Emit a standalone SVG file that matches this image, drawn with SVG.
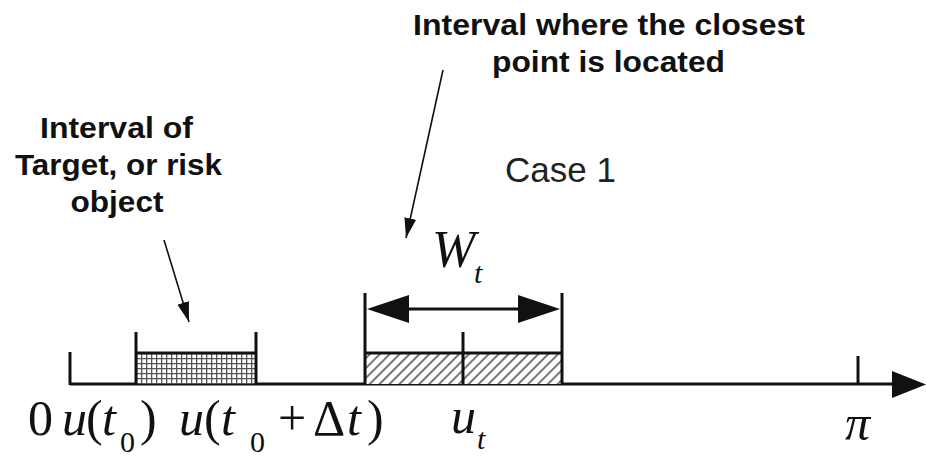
<svg xmlns="http://www.w3.org/2000/svg" width="926" height="472" viewBox="0 0 926 472">
<style>
.lbl{font-family:"Liberation Sans",Arial,sans-serif;font-weight:bold;font-size:30px;fill:#111;text-anchor:middle}
.case{font-family:"Liberation Sans",Arial,sans-serif;font-size:35px;fill:#222}
.m{font-family:"Liberation Serif","Times New Roman",serif;font-size:50px;fill:#111}
.i{font-style:italic}
.sub{font-size:30px}
.ax{stroke:#111;stroke-width:3;fill:none}
.ptr{stroke:#111;stroke-width:1.6;fill:none}
</style>
<defs>
<pattern id="grid" width="5" height="5" patternUnits="userSpaceOnUse" x="136" y="353">
<rect width="5" height="5" fill="#fff"/>
<path d="M0 0.6H5M0.6 0V5" stroke="#555" stroke-width="1.4"/>
</pattern>
<pattern id="diag" width="7" height="7" patternUnits="userSpaceOnUse" patternTransform="rotate(-45)">
<rect width="7" height="7" fill="#fff"/>
<path d="M0 1H7" stroke="#666" stroke-width="1.8"/>
</pattern>
<marker id="ah" viewBox="0 0 20 12" refX="20" refY="6" markerWidth="20" markerHeight="12" markerUnits="userSpaceOnUse" orient="auto">
<path d="M0 0L20 6L0 12Z" fill="#111"/>
</marker>
</defs>
<rect width="926" height="472" fill="#fff"/>

<g id="axis">
<line class="ax" x1="70" y1="384" x2="896" y2="384"/>
<polygon points="892,371 926,384.5 892,398" fill="#111"/>
<line class="ax" x1="70" y1="352" x2="70" y2="385"/>
<line class="ax" x1="858" y1="356" x2="858" y2="385"/>
</g>

<g id="target-interval">
<rect x="136" y="353" width="120" height="31" fill="url(#grid)"/>
<line class="ax" x1="136" y1="353" x2="256" y2="353"/>
<line class="ax" x1="136" y1="332" x2="136" y2="385"/>
<line class="ax" x1="256" y1="332" x2="256" y2="385"/>
</g>

<g id="closest-interval">
<rect x="365" y="353" width="197" height="31" fill="url(#diag)"/>
<line class="ax" x1="365" y1="353" x2="562" y2="353"/>
<line class="ax" x1="365" y1="293" x2="365" y2="385"/>
<line class="ax" x1="562" y1="293" x2="562" y2="385"/>
<line class="ax" x1="463" y1="332" x2="463" y2="385"/>
</g>

<g id="connectors">
<line class="ax" x1="400" y1="309" x2="527" y2="309"/>
<polygon points="367,309 409,295 409,323" fill="#111"/>
<polygon points="560,309 518,295 518,323" fill="#111"/>
<line class="ptr" x1="443" y1="70" x2="406" y2="238" marker-end="url(#ah)"/>
<line class="ptr" x1="164" y1="240" x2="189" y2="322" marker-end="url(#ah)"/>
</g>

<g id="label-closest">
<text class="lbl" x="609" y="35" textLength="392" lengthAdjust="spacingAndGlyphs">Interval where the closest</text>
<text class="lbl" x="608.5" y="72" textLength="233" lengthAdjust="spacingAndGlyphs">point is located</text>
</g>
<g id="label-target">
<text class="lbl" x="116.5" y="138" textLength="153" lengthAdjust="spacingAndGlyphs">Interval of</text>
<text class="lbl" x="118.5" y="175" textLength="207" lengthAdjust="spacingAndGlyphs">Target, or risk</text>
<text class="lbl" x="117" y="212" textLength="93" lengthAdjust="spacingAndGlyphs">object</text>
</g>
<text id="case" class="case" x="505" y="182">Case 1</text>

<g id="math-labels">
<text class="m" x="432" y="267"><tspan class="i" font-size="52">W</tspan><tspan class="i sub" x="474" y="283">t</tspan></text>
<text class="m" x="28" y="435" font-size="45">0</text>
<text class="m" y="435"><tspan class="i" x="62">u</tspan><tspan x="86">(</tspan><tspan class="i" x="102">t</tspan><tspan class="sub" x="120" y="452">0</tspan><tspan x="140" y="435">)</tspan></text>
<text class="m" y="435"><tspan class="i" x="179">u</tspan><tspan x="204">(</tspan><tspan class="i" x="221">t</tspan><tspan class="sub" x="250" y="452">0</tspan><tspan x="278" y="435">+</tspan><tspan x="313">Δ</tspan><tspan class="i" x="347">t</tspan><tspan x="367">)</tspan></text>
<text class="m" y="433"><tspan class="i" x="451">u</tspan><tspan class="i sub" x="477" y="449">t</tspan></text>
<text class="m i" x="845" y="440" font-size="50">π</text>
</g>
</svg>
